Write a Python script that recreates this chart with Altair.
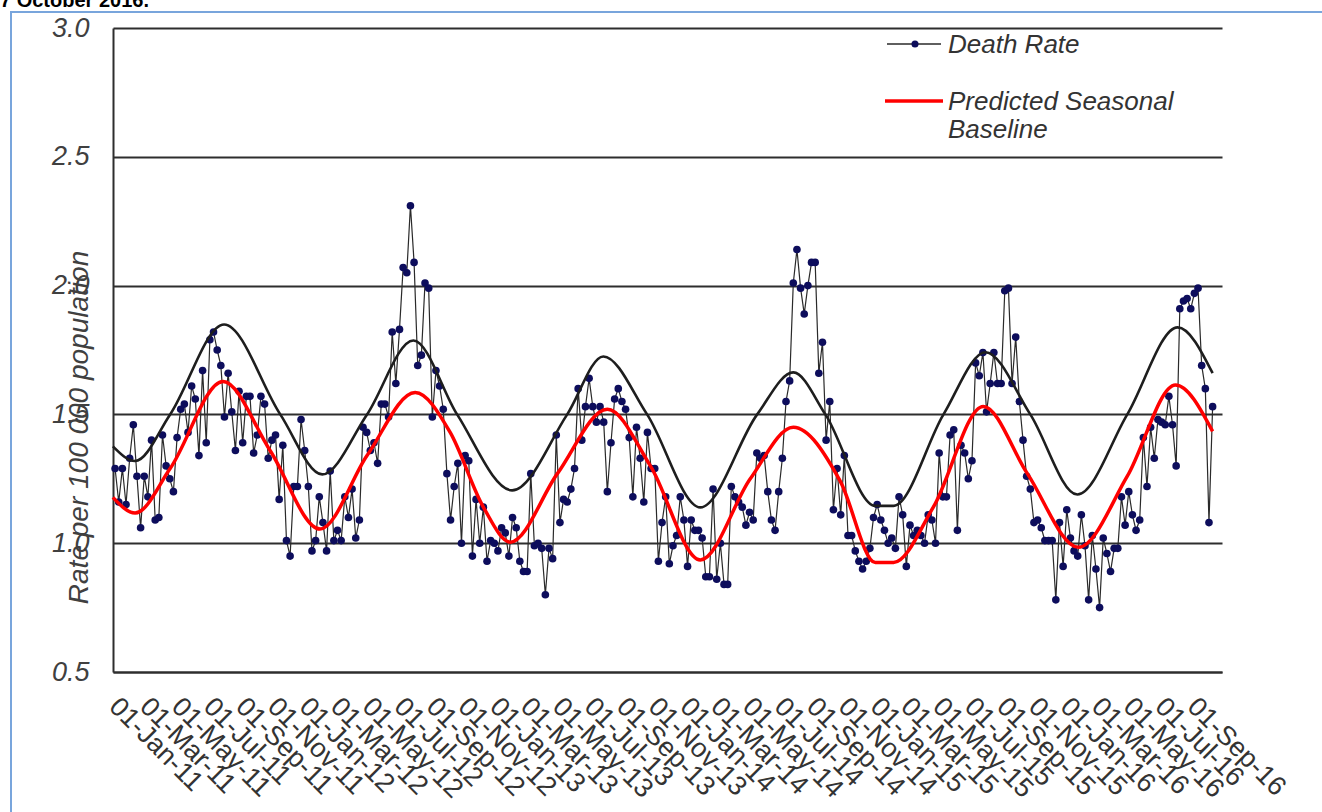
import altair as alt
import pandas as pd

# ---------------- data ----------------
header_text = "7 October 2016."
y_title = "Rate per 100 000 population"
legend_labels = ["Death Rate", "Predicted Seasonal", "Baseline"]

first_week = "2011-01-05"   # first weekly observation

# weekly death rate per 100 000 (2011 .. early 2012)
rate_a = [1.29, 1.16, 1.29, 1.15, 1.33, 1.46, 1.26, 1.06, 1.26, 1.18,
          1.40, 1.09, 1.10, 1.42, 1.30, 1.25, 1.20, 1.41, 1.52, 1.54,
          1.43, 1.61, 1.56, 1.34, 1.67, 1.39, 1.79, 1.82, 1.75, 1.69,
          1.49, 1.66, 1.51, 1.36, 1.59, 1.39, 1.57, 1.57, 1.35, 1.42,
          1.57, 1.54, 1.33, 1.40, 1.42, 1.17, 1.38, 1.01, 0.95, 1.22,
          1.22, 1.48, 1.36, 1.22, 0.97, 1.01, 1.18, 1.08, 0.97, 1.28,
          1.01, 1.05, 1.01, 1.18, 1.10, 1.21, 1.02, 1.09, 1.45, 1.43,
          1.36, 1.39, 1.31, 1.54, 1.54, 1.49, 1.82, 1.62, 1.83]
rate_b = [2.07, 2.05, 2.31, 2.09, 1.69, 1.73, 2.01, 1.99, 1.49, 1.67,
          1.61, 1.52, 1.27, 1.09, 1.22, 1.31, 1.00, 1.34, 1.32, 0.95,
          1.17, 1.00, 1.14, 0.93, 1.01, 1.00, 0.97, 1.06, 1.04, 0.95,
          1.10, 1.06, 0.93, 0.89, 0.89, 1.27, 0.99, 1.00, 0.98, 0.80,
          0.98, 0.94, 1.42, 1.08, 1.17, 1.16, 1.21, 1.29, 1.60, 1.40,
          1.53, 1.64, 1.53, 1.47, 1.53]
rate_c = [1.47, 1.20, 1.39, 1.56, 1.60, 1.55, 1.52, 1.41, 1.18, 1.45,
          1.33, 1.16, 1.43, 1.29, 1.29, 0.93, 1.08, 1.18, 0.92, 0.99,
          1.03, 1.18, 1.09, 0.91, 1.09, 1.05, 1.05, 1.02, 0.87, 0.87,
          1.21, 0.86, 1.00, 0.84, 0.84, 1.22, 1.18, 1.16, 1.14, 1.07,
          1.12, 1.09, 1.35, 1.33, 1.34, 1.20, 1.09, 1.05, 1.20, 1.33,
          1.55, 1.63, 2.01, 2.14, 1.99, 1.89, 2.00, 2.09, 2.09, 1.66,
          1.78, 1.40, 1.55, 1.13, 1.29, 1.11, 1.34, 1.03, 1.03, 0.97,
          0.93, 0.90, 0.93, 0.98, 1.10, 1.15, 1.09, 1.05, 1.00, 1.02,
          0.98, 1.18]
rate_d = [1.11, 0.91, 1.07, 1.03, 1.05, 1.03, 1.00, 1.11, 1.09, 1.00,
          1.35, 1.18, 1.18, 1.42, 1.44, 1.05, 1.38, 1.35, 1.25, 1.32,
          1.70, 1.65, 1.74, 1.51, 1.62, 1.74, 1.62, 1.62, 1.98, 1.99,
          1.62, 1.80, 1.55, 1.40, 1.26, 1.21, 1.08, 1.09, 1.06, 1.01,
          1.01, 1.01, 0.78, 1.08, 0.91, 1.13, 1.02, 0.97, 0.95, 1.11,
          0.99, 0.78, 1.03, 0.90, 0.75, 1.02, 0.96, 0.89, 0.98, 0.98,
          1.18, 1.07, 1.20, 1.11, 1.05, 1.09, 1.41, 1.22, 1.45, 1.33,
          1.48, 1.47, 1.46, 1.57, 1.46, 1.30, 1.91, 1.94, 1.95, 1.91,
          1.97, 1.99, 1.69, 1.60, 1.08, 1.53]
death_rate = rate_a + rate_b + rate_c + rate_d

# upper (black) seasonal curve: position in weeks from first_week, value
upper_week = [-0.6, 5.5, 15.1, 29.9, 45.3, 56.8, 69.1, 81.8, 93.8, 108.9,
              124.0, 133.9, 145.9, 160.5, 176.1, 186.0, 194.8, 208.5, 213.5,
              227.2, 238.7, 251.0, 263.9, 277.6, 291.4, 301.0]
upper_value = [1.376, 1.319, 1.50, 1.849, 1.50, 1.267, 1.50, 1.787, 1.50, 1.205,
               1.50, 1.725, 1.50, 1.139, 1.50, 1.663, 1.50, 1.145, 1.145,
               1.50, 1.741, 1.50, 1.189, 1.50, 1.838, 1.66]

# predicted seasonal baseline (red)
base_week = [-0.6, 5.5, 15.1, 29.6, 42.5, 56.2, 69.1, 82.3, 91.9, 101.0,
             108.4, 121.3, 135.0, 146.8, 160.5, 174.2, 186.0, 198.9, 208.5,
             213.5, 224.4, 238.1, 250.2, 264.2, 277.6, 290.8, 301.0]
base_value = [1.178, 1.117, 1.29, 1.628, 1.36, 1.055, 1.34, 1.585, 1.43, 1.14,
              1.004, 1.27, 1.52, 1.30, 0.935, 1.25, 1.45, 1.24, 0.925,
              0.925, 1.14, 1.531, 1.27, 0.984, 1.26, 1.614, 1.434]

tick_dates = ["2011-01-01", "2011-03-01", "2011-05-01", "2011-07-01", "2011-09-01", "2011-11-01",
              "2012-01-01", "2012-03-01", "2012-05-01", "2012-07-01", "2012-09-01", "2012-11-01",
              "2013-01-01", "2013-03-01", "2013-05-01", "2013-07-01", "2013-09-01", "2013-11-01",
              "2014-01-01", "2014-03-01", "2014-05-01", "2014-07-01", "2014-09-01", "2014-11-01",
              "2015-01-01", "2015-03-01", "2015-05-01", "2015-07-01", "2015-09-01", "2015-11-01",
              "2016-01-01", "2016-03-01", "2016-05-01", "2016-07-01", "2016-09-01"]
x_start = "2011-01-01"
x_end = "2016-10-30"
y_ticks = [0.5, 1.0, 1.5, 2.0, 2.5, 3.0]

# ---------------- build tables ----------------
t0 = pd.Timestamp(first_week)
fmt = "%Y-%m-%dT%H:%M:%S"
df_rate = pd.DataFrame({
    "date": [(t0 + pd.Timedelta(days=7 * i)).strftime(fmt) for i in range(len(death_rate))],
    "value": death_rate,
})
df_upper = pd.DataFrame({
    "date": [(t0 + pd.Timedelta(days=7 * w)).strftime(fmt) for w in upper_week],
    "value": upper_value,
})
df_base = pd.DataFrame({
    "date": [(t0 + pd.Timedelta(days=7 * w)).strftime(fmt) for w in base_week],
    "value": base_value,
})


def dt(s):
    ts = pd.Timestamp(s)
    return alt.DateTime(year=ts.year, month=ts.month, date=ts.day)


FONT = "Liberation Sans"
GRID = "#2e2e2e"

x_enc = alt.X(
    "date:T",
    scale=alt.Scale(domain=[dt(x_start), dt(x_end)]),
    axis=alt.Axis(
        values=[dt(d) for d in tick_dates], format="%d-%b-%y",
        labelAngle=45, labelAlign="left", labelBaseline="middle",
        labelPadding=30, labelOverlap=False, labelFlush=False, labelBound=False,
        grid=False, ticks=False, domainColor=GRID, domainWidth=2,
        labelFont=FONT, labelFontSize=27, labelColor="#333333",
    ),
    title=None,
)
y_enc = alt.Y(
    "value:Q",
    scale=alt.Scale(domain=[0.5, 3.0], nice=False, zero=False),
    axis=alt.Axis(
        values=y_ticks, format=".1f", grid=True, gridColor=GRID, gridWidth=2,
        domainColor=GRID, domainWidth=2, ticks=False,
        labelFont=FONT, labelFontSize=27, labelFontStyle="italic",
        labelColor="#404040", labelPadding=24,
        titleFont=FONT, titleFontSize=28, titleFontStyle="italic",
        titleFontWeight="normal", titleColor="#404040",
        titleAngle=-90, titleX=-34, titleY=399,
        titleAlign="center", titleBaseline="middle",
    ),
    title=y_title,
)

rate_line = alt.Chart(df_rate).mark_line(color="#2a2a2a", strokeWidth=1.2).encode(x=x_enc, y=y_enc)
rate_pts = alt.Chart(df_rate).mark_circle(color="#0d0d5c", size=58, opacity=1).encode(x=x_enc, y=y_enc)
upper_line = alt.Chart(df_upper).mark_line(color="#1e1e1e", strokeWidth=2.6, interpolate="monotone").encode(x=x_enc, y=y_enc)
base_line = alt.Chart(df_base).mark_line(color="#ff0000", strokeWidth=3.5, interpolate="monotone").encode(x=x_enc, y=y_enc)

one = pd.DataFrame({"k": [0]})
lab = pd.DataFrame({"label": legend_labels})

leg_rule1 = alt.Chart(one).mark_rule(color="#2a2a2a", strokeWidth=1.5).encode(
    x=alt.value(774), x2=alt.value(828), y=alt.value(16))
leg_dot = alt.Chart(one).mark_circle(color="#0d0d5c", size=50, opacity=1).encode(
    x=alt.value(802), y=alt.value(16))
leg_rule2 = alt.Chart(one).mark_rule(color="#ff0000", strokeWidth=3.5).encode(
    x=alt.value(772), x2=alt.value(830), y=alt.value(73))

txt_style = dict(align="left", baseline="alphabetic", font=FONT, fontSize=26,
                 fontStyle="italic", color="#333333")
leg_t1 = alt.Chart(lab).transform_filter(alt.datum.label == legend_labels[0]).mark_text(**txt_style).encode(
    x=alt.value(835), y=alt.value(25), text="label:N")
leg_t2 = alt.Chart(lab).transform_filter(alt.datum.label == legend_labels[1]).mark_text(**txt_style).encode(
    x=alt.value(835), y=alt.value(82), text="label:N")
leg_t3 = alt.Chart(lab).transform_filter(alt.datum.label == legend_labels[2]).mark_text(**txt_style).encode(
    x=alt.value(835), y=alt.value(110), text="label:N")

frame = alt.Chart(one).mark_rect(fillOpacity=0, stroke="#78a5dc", strokeWidth=2).encode(
    x=alt.value(-102), x2=alt.value(1220), y=alt.value(-16), y2=alt.value(795))

header = alt.Chart(pd.DataFrame({"t": [header_text]})).mark_text(
    align="left", baseline="alphabetic", font=FONT, fontSize=20, fontWeight="bold", color="#000000"
).encode(x=alt.value(-113), y=alt.value(-21), text="t:N")

chart = alt.layer(
    frame, rate_line, rate_pts, upper_line, base_line,
    leg_rule1, leg_dot, leg_rule2, leg_t1, leg_t2, leg_t3, header,
).properties(
    width=1109, height=644,
    autosize=alt.AutoSizeParams(type="none"),
    padding={"left": 113, "top": 28, "right": 100, "bottom": 140},
    background="#ffffff",
).configure_view(strokeWidth=0)

chart.save("out.html", embed_options={"renderer": "svg", "actions": False})
